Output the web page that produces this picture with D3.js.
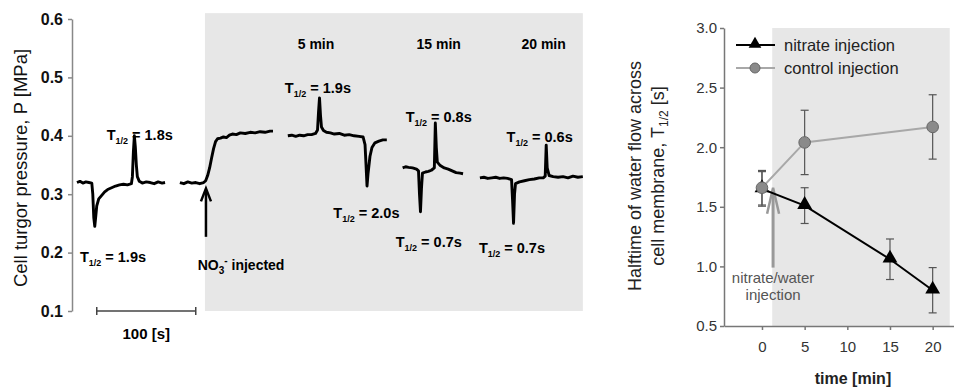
<!DOCTYPE html>
<html>
<head>
<meta charset="utf-8">
<script src="https://cdn.jsdelivr.net/npm/d3@7"></script>
<style>
  body { margin: 0; background: #fff; }
  text { font-family: "Liberation Sans", Arial, sans-serif; }
</style>
</head>
<body>
<div id="chart"></div>
<script>
// ---- left panel: turgor pressure traces (time in s, P in MPa)
const pressureTicks = [0.1, 0.2, 0.3, 0.4, 0.5, 0.6];
const tracePre = [[5,0.320],[8,0.322],[11,0.319],[14,0.321],[17,0.320],[20,0.319],[21,0.300],[22,0.260],[23,0.245],[24,0.262],[25,0.280],[27,0.292],[30,0.298],[33,0.304],[36,0.308],[40,0.311],[44,0.314],[48,0.316],[52,0.317],[56,0.316],[60,0.318],[61,0.330],[62,0.372],[63,0.400],[64,0.380],[65,0.350],[66,0.330],[68,0.322],[71,0.319],[75,0.321],[79,0.320],[83,0.318],[87,0.321],[91,0.319],[94,0.320]];
const traceInject = [[109,0.320],[113,0.318],[117,0.321],[121,0.319],[125,0.320],[129,0.318],[133,0.320],[135,0.323],[137,0.332],[139,0.345],[141,0.362],[143,0.378],[145,0.390],[147,0.395],[150,0.396],[153,0.398],[156,0.397],[159,0.401],[162,0.403],[166,0.402],[170,0.405],[175,0.404],[180,0.406],[185,0.405],[190,0.407],[195,0.406],[200,0.408],[203,0.408]];
const trace5 = [[218,0.400],[222,0.401],[226,0.399],[230,0.401],[234,0.400],[238,0.402],[242,0.402],[246,0.404],[248,0.410],[249,0.440],[250,0.465],[251,0.435],[252,0.415],[254,0.409],[257,0.406],[261,0.405],[265,0.403],[270,0.404],[275,0.401],[280,0.402],[285,0.400],[290,0.399],[294,0.398],[296,0.385],[297,0.350],[298,0.314],[299,0.335],[301,0.365],[303,0.380],[306,0.388],[310,0.391],[314,0.393],[318,0.393]];
const trace15 = [[334,0.345],[337,0.347],[340,0.346],[344,0.345],[348,0.343],[350,0.340],[351,0.300],[352,0.270],[353,0.310],[354,0.336],[357,0.338],[360,0.339],[363,0.341],[366,0.345],[367,0.422],[368,0.380],[369,0.355],[372,0.349],[376,0.345],[380,0.343],[384,0.340],[388,0.337],[392,0.336],[395,0.335]];
const trace20 = [[412,0.328],[416,0.329],[420,0.327],[424,0.328],[428,0.329],[432,0.327],[436,0.328],[440,0.327],[444,0.325],[445,0.290],[446,0.250],[447,0.300],[448,0.318],[452,0.321],[457,0.323],[462,0.325],[467,0.326],[472,0.328],[476,0.328],[478,0.331],[479,0.384],[480,0.345],[482,0.332],[486,0.330],[491,0.329],[496,0.330],[501,0.328],[506,0.331],[511,0.329],[516,0.330]];
const traces = [tracePre, traceInject, trace5, trace15, trace20];
const injectTime = 134.3;
const leftEnd = 516;

// T1/2 labels: [t, P, value]
const halfLabels = [[35, 0.393, "1.8s"], [8, 0.184, "1.9s"], [215, 0.473, "1.9s"], [264, 0.259, "2.0s"],
                    [337, 0.424, "0.8s"], [327, 0.210, "0.7s"], [439, 0.389, "0.6s"], [411, 0.199, "0.7s"]];
const minuteLabels = [[228, "5 min"], [348, "15 min"], [454, "20 min"]];

// ---- right panel: halftime of water flow
const timeTicks = [0, 5, 10, 15, 20];
const halftimeTicks = [0.5, 1.0, 1.5, 2.0, 2.5, 3.0];
const nitrateTime = [0, 5, 15, 20];
const nitrateMean = [1.65, 1.51, 1.06, 0.80];
const nitrateErr = [0.145, 0.15, 0.17, 0.19];
const controlTime = [0, 5, 20];
const controlMean = [1.66, 2.04, 2.17];
const controlErr = [0.145, 0.27, 0.27];

const W = 954, H = 387;
const svg = d3.select("#chart").append("svg")
  .attr("width", W).attr("height", H);

// ===== left panel =====
const xL = d3.scaleLinear().domain([0, 520]).range([72, 72 + 520 * 0.99]);
const yL = d3.scaleLinear().domain([0.1, 0.6]).range([311, 19]);

svg.append("rect")
  .attr("x", xL(injectTime)).attr("y", yL(0.61))
  .attr("width", xL(leftEnd) - xL(injectTime))
  .attr("height", yL(0.1) - yL(0.61))
  .attr("fill", "#e7e7e7");

const axL = svg.append("g")
  .attr("transform", "translate(" + xL(0) + ",0)")
  .call(d3.axisLeft(yL).tickValues(pressureTicks).tickFormat(d3.format(".1f"))
    .tickSize(4).tickSizeOuter(0).tickPadding(5));
axL.selectAll("path, line").attr("stroke", "#888").attr("stroke-width", 1.5);
axL.selectAll("text").attr("font-size", 16).attr("font-weight", "bold")
  .attr("fill", "#111").attr("font-family", "Liberation Sans, Arial, sans-serif");

svg.append("text")
  .attr("transform", "translate(27," + 168 + ") rotate(-90)")
  .attr("text-anchor", "middle").attr("font-size", 18.5).attr("fill", "#111")
  .text("Cell turgor pressure, P [MPa]");

// traces
const line = d3.line().x(d => xL(d[0])).y(d => yL(d[1]));
svg.selectAll(".trace").data(traces).join("path")
  .attr("class", "trace")
  .attr("fill", "none").attr("stroke", "#000")
  .attr("stroke-width", 2.9).attr("stroke-linejoin", "round")
  .attr("d", line);

// scale bar 100 s
const bar = svg.append("g").attr("stroke", "#444").attr("stroke-width", 1.5);
bar.append("line").attr("x1", xL(25)).attr("x2", xL(125)).attr("y1", yL(0.1)).attr("y2", yL(0.1));
[25, 125].forEach(t => bar.append("line").attr("x1", xL(t)).attr("x2", xL(t))
  .attr("y1", yL(0.1) - 4).attr("y2", yL(0.1) + 4));
svg.append("text").attr("x", xL(75)).attr("y", 339)
  .attr("text-anchor", "middle").attr("font-size", 15).attr("font-weight", "bold")
  .text("100 [s]");

// T1/2 labels
halfLabels.forEach(d => {
  const t = svg.append("text").attr("x", xL(d[0])).attr("y", yL(d[1]))
    .attr("font-size", 14.5).attr("font-weight", "bold");
  t.append("tspan").text("T");
  t.append("tspan").attr("font-size", 9).attr("dy", 4).text("1/2");
  t.append("tspan").attr("dy", -4).text(" = " + d[2]);
});
minuteLabels.forEach(d => {
  svg.append("text").attr("x", xL(d[0])).attr("y", yL(0.549))
    .attr("font-size", 14).attr("font-weight", "bold").text(d[1]);
});

// injection arrow
const ax = xL(injectTime) + 1;
svg.append("line").attr("x1", ax).attr("x2", ax)
  .attr("y1", yL(0.227)).attr("y2", yL(0.305))
  .attr("stroke", "#000").attr("stroke-width", 2.5);
svg.append("path")
  .attr("d", "M" + (ax - 5) + "," + (yL(0.31) + 13) + "L" + ax + "," + yL(0.31) + "L" + (ax + 5) + "," + (yL(0.31) + 13))
  .attr("fill", "none").attr("stroke", "#000").attr("stroke-width", 2.5);
const no3 = svg.append("text").attr("x", xL(127)).attr("y", yL(0.17))
  .attr("font-size", 14).attr("font-weight", "bold");
no3.append("tspan").text("NO");
no3.append("tspan").attr("font-size", 10).attr("dy", 4).text("3");
no3.append("tspan").attr("font-size", 10).attr("dy", -10).text("-");
no3.append("tspan").attr("dy", 6).text(" injected");

// ===== right panel =====
const xR = d3.scaleLinear().domain([-4.45, 22.5]).range([724, 954]);
const yR = d3.scaleLinear().domain([0.5, 3.0]).range([326, 28]);

svg.append("rect")
  .attr("x", xR(1.2)).attr("y", yR(3.0))
  .attr("width", xR(22) - xR(1.2)).attr("height", yR(0.5) - yR(3.0))
  .attr("fill", "#e7e7e7");

const ayR = svg.append("g")
  .attr("transform", "translate(" + xR(-4.45) + ",0)")
  .call(d3.axisLeft(yR).tickValues(halftimeTicks).tickFormat(d3.format(".1f"))
    .tickSize(4).tickSizeOuter(0).tickPadding(3));
const axR = svg.append("g")
  .attr("transform", "translate(0," + yR(0.5) + ")")
  .call(d3.axisBottom(xR).tickValues(timeTicks).tickSize(4).tickSizeOuter(0).tickPadding(11));
[ayR, axR].forEach(g => {
  g.selectAll("path, line").attr("stroke", "#777").attr("stroke-width", 1.5);
  g.selectAll("text").attr("font-size", 15).attr("fill", "#333")
    .attr("font-family", "Liberation Sans, Arial, sans-serif");
});

svg.append("text").attr("x", 853).attr("y", 384)
  .attr("text-anchor", "middle").attr("font-size", 16).attr("font-weight", "bold").attr("fill", "#222")
  .text("time [min]");

svg.append("text")
  .attr("transform", "translate(641,176) rotate(-90)")
  .attr("text-anchor", "middle").attr("font-size", 18).attr("fill", "#222")
  .text("Halftime of water flow across");
const t2 = svg.append("text")
  .attr("transform", "translate(664,176) rotate(-90)")
  .attr("text-anchor", "middle").attr("font-size", 18).attr("fill", "#222");
t2.append("tspan").text("cell membrane, T");
t2.append("tspan").attr("font-size", 12).attr("dy", 4).text("1/2");
t2.append("tspan").attr("dy", -4).text(" [s]");

// injection arrow (gray)
const gx = xR(1.3);
svg.append("line").attr("x1", gx).attr("x2", gx)
  .attr("y1", yR(0.99)).attr("y2", yR(1.62))
  .attr("stroke", "#999").attr("stroke-width", 3);
svg.append("path")
  .attr("d", "M" + (gx - 6) + "," + (yR(1.66) + 26) + "L" + gx + "," + yR(1.66) + "L" + (gx + 6) + "," + (yR(1.66) + 26))
  .attr("fill", "none").attr("stroke", "#999").attr("stroke-width", 2.5);
svg.append("text").attr("x", gx).attr("y", 283)
  .attr("text-anchor", "middle").attr("font-size", 15).attr("fill", "#555").text("nitrate/water");
svg.append("text").attr("x", gx).attr("y", 300)
  .attr("text-anchor", "middle").attr("font-size", 15).attr("fill", "#555").text("injection");

// series
const nitrate = nitrateTime.map((t, i) => ({t: t, m: nitrateMean[i], e: nitrateErr[i]}));
const control = controlTime.map((t, i) => ({t: t, m: controlMean[i], e: controlErr[i]}));
const tri = d3.symbol(d3.symbolTriangle, 95);

function errorBars(data) {
  const g = svg.append("g").attr("stroke", "#555").attr("stroke-width", 1.2);
  data.forEach(d => {
    g.append("line").attr("x1", xR(d.t)).attr("x2", xR(d.t)).attr("y1", yR(d.m - d.e)).attr("y2", yR(d.m + d.e));
    [d.m - d.e, d.m + d.e].forEach(v => g.append("line")
      .attr("x1", xR(d.t) - 4).attr("x2", xR(d.t) + 4).attr("y1", yR(v)).attr("y2", yR(v)));
  });
}
errorBars(nitrate);
errorBars(control);

const lineR = d3.line().x(d => xR(d.t)).y(d => yR(d.m));
svg.append("path").datum(nitrate).attr("fill", "none").attr("stroke", "#000").attr("stroke-width", 2).attr("d", lineR);
svg.selectAll(".tri").data(nitrate).join("path").attr("class", "tri")
  .attr("transform", d => "translate(" + xR(d.t) + "," + (yR(d.m) - 1) + ")")
  .attr("d", tri).attr("fill", "#000");
svg.append("path").datum(control).attr("fill", "none").attr("stroke", "#a8a8a8").attr("stroke-width", 2).attr("d", lineR);
svg.selectAll(".dot").data(control).join("circle").attr("class", "dot")
  .attr("cx", d => xR(d.t)).attr("cy", d => yR(d.m)).attr("r", 5.8)
  .attr("fill", "#8a8a8a").attr("stroke", "#666").attr("stroke-width", 1);

// legend
const legend = [["nitrate injection", "#000", "tri"], ["control injection", "#a8a8a8", "dot"]];
legend.forEach((d, i) => {
  const y = 45 + i * 23;
  svg.append("line").attr("x1", 736).attr("x2", 775).attr("y1", y).attr("y2", y)
    .attr("stroke", d[1]).attr("stroke-width", 2);
  if (d[2] === "tri") {
    svg.append("path").attr("transform", "translate(755," + (y - 1) + ")")
      .attr("d", d3.symbol(d3.symbolTriangle, 70)).attr("fill", "#000");
  } else {
    svg.append("circle").attr("cx", 755).attr("cy", y).attr("r", 5)
      .attr("fill", "#8a8a8a").attr("stroke", "#666");
  }
  svg.append("text").attr("x", 784).attr("y", y + 6)
    .attr("font-size", 16.5).attr("fill", "#222").text(d[0]);
});
</script>
</body>
</html>
